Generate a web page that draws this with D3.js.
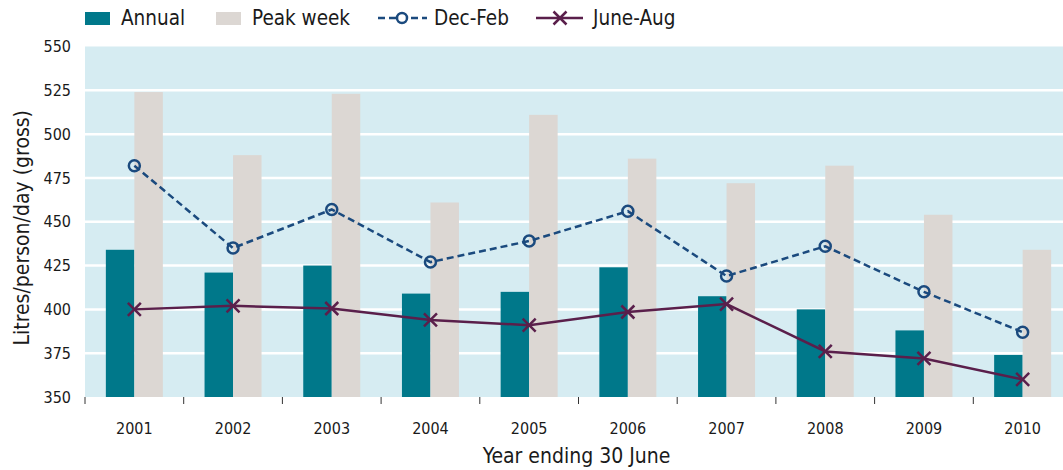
<!DOCTYPE html>
<html lang="en">
<head>
<meta charset="UTF-8">
<script src="https://d3js.org/d3.v7.min.js"></script>
<style>
  body { margin: 0; background: #fff; }
  svg { display: block; font-family: "DejaVu Sans Condensed", "Liberation Sans Narrow", sans-serif; }
</style>
</head>
<body>
<script>
// data
var years = ["2001", "2002", "2003", "2004", "2005", "2006", "2007", "2008", "2009", "2010"];
var annual = [434, 421, 425, 409, 410, 424, 407.5, 400, 388, 374];
var peakWeek = [524, 488, 523, 461, 511, 486, 472, 482, 454, 434];
var decFeb = [482, 435, 457, 427, 439, 456, 419, 436, 410, 387];
var juneAug = [400, 402, 400.5, 394, 391, 398.5, 403, 376, 372, 360];
var yTicks = [350, 375, 400, 425, 450, 475, 500, 525, 550];

var width = 1063, height = 470;
var mLeft = 85, mRight = 1072, mTop = 46.5, mBottom = 397;

var svg = d3.select("body").append("svg")
    .attr("width", width)
    .attr("height", height);

var x = d3.scaleBand().domain(years).range([mLeft, mRight]);
var y = d3.scaleLinear().domain([350, 550]).range([mBottom, mTop]);
var barW = 28.5;

// plot background
svg.append("rect")
    .attr("x", mLeft).attr("y", mTop)
    .attr("width", mRight - mLeft).attr("height", mBottom - mTop)
    .attr("fill", "#d6ecf2");

// gridlines
svg.append("g").selectAll("line")
    .data(yTicks.filter(d => d > 350 && d < 550))
    .enter().append("line")
    .attr("x1", mLeft).attr("x2", mRight)
    .attr("y1", d => y(d)).attr("y2", d => y(d))
    .attr("stroke", "#fff").attr("stroke-width", 2.5);

// y tick labels
svg.append("g").selectAll("text")
    .data(yTicks)
    .enter().append("text")
    .attr("x", 71).attr("y", d => y(d))
    .attr("dy", "0.35em")
    .attr("text-anchor", "end")
    .attr("font-size", 16)
    .attr("fill", "#1a1a1a")
    .text(d => d);

// bars
var cx = d => x(d) + x.bandwidth() / 2;
svg.append("g").selectAll("rect")
    .data(years)
    .enter().append("rect")
    .attr("x", (d) => cx(d) - barW)
    .attr("y", (d, i) => y(annual[i]))
    .attr("width", barW)
    .attr("height", (d, i) => mBottom - y(annual[i]))
    .attr("fill", "#00788a");

svg.append("g").selectAll("rect")
    .data(years)
    .enter().append("rect")
    .attr("x", (d) => cx(d))
    .attr("y", (d, i) => y(peakWeek[i]))
    .attr("width", barW)
    .attr("height", (d, i) => mBottom - y(peakWeek[i]))
    .attr("fill", "#dcd7d3");

// x axis ticks at band edges
var edges = years.map(d => x(d)).concat([mRight]);
svg.append("g").selectAll("line")
    .data(edges)
    .enter().append("line")
    .attr("x1", d => d).attr("x2", d => d)
    .attr("y1", mBottom).attr("y2", mBottom + 7)
    .attr("stroke", "#333").attr("stroke-width", 1);

svg.append("g").selectAll("text")
    .data(years)
    .enter().append("text")
    .attr("x", d => cx(d)).attr("y", 428)
    .attr("dy", "0.35em")
    .attr("text-anchor", "middle")
    .attr("font-size", 16)
    .attr("fill", "#1a1a1a")
    .text(d => d);

// lines
var decCol = "#1b4a7e", junCol = "#5a1f4b";
var line = d3.line().x((d, i) => cx(years[i])).y(d => y(d));

svg.append("path")
    .datum(decFeb)
    .attr("d", line)
    .attr("fill", "none")
    .attr("stroke", decCol)
    .attr("stroke-width", 2.5)
    .attr("stroke-dasharray", "7,4");

svg.append("g").selectAll("circle")
    .data(decFeb)
    .enter().append("circle")
    .attr("cx", (d, i) => cx(years[i]))
    .attr("cy", d => y(d))
    .attr("r", 5.5)
    .attr("fill", "none")
    .attr("stroke", decCol)
    .attr("stroke-width", 2.5);

svg.append("path")
    .datum(juneAug)
    .attr("d", line)
    .attr("fill", "none")
    .attr("stroke", junCol)
    .attr("stroke-width", 2.5);

function cross(g, px, py, s) {
    g.append("path")
        .attr("d", "M" + (px - s) + "," + (py - s) + "L" + (px + s) + "," + (py + s) +
                   "M" + (px - s) + "," + (py + s) + "L" + (px + s) + "," + (py - s))
        .attr("stroke", junCol)
        .attr("stroke-width", 2.5)
        .attr("fill", "none");
}
var crosses = svg.append("g");
juneAug.forEach((d, i) => cross(crosses, cx(years[i]), y(d), 6.5));

// axis titles
svg.append("text")
    .attr("transform", "translate(22," + ((mTop + mBottom) / 2 + 6) + ") rotate(-90)")
    .attr("dy", "0.35em")
    .attr("text-anchor", "middle")
    .attr("font-size", 21)
    .attr("fill", "#1a1a1a")
    .text("Litres/person/day (gross)");

svg.append("text")
    .attr("x", (mLeft + mRight) / 2 - 2).attr("y", 456)
    .attr("dy", "0.35em")
    .attr("text-anchor", "middle")
    .attr("font-size", 21)
    .attr("fill", "#1a1a1a")
    .text("Year ending 30 June");

// legend
var leg = svg.append("g").attr("font-size", 20.5).attr("fill", "#1a1a1a");
var ly = 18;
leg.append("rect").attr("x", 85).attr("y", 12).attr("width", 25).attr("height", 13).attr("fill", "#00788a");
leg.append("text").attr("x", 121).attr("y", ly).attr("dy", "0.35em").text("Annual");
leg.append("rect").attr("x", 216).attr("y", 12).attr("width", 25).attr("height", 13).attr("fill", "#dcd7d3");
leg.append("text").attr("x", 252).attr("y", ly).attr("dy", "0.35em").text("Peak week");

leg.append("line").attr("x1", 378).attr("x2", 427).attr("y1", ly).attr("y2", ly)
    .attr("stroke", decCol).attr("stroke-width", 2.5).attr("stroke-dasharray", "7,4");
leg.append("circle").attr("cx", 402).attr("cy", ly).attr("r", 5)
    .attr("fill", "#fff").attr("stroke", decCol).attr("stroke-width", 2.5);
leg.append("text").attr("x", 434).attr("y", ly).attr("dy", "0.35em").text("Dec-Feb");

leg.append("line").attr("x1", 536).attr("x2", 583).attr("y1", ly).attr("y2", ly)
    .attr("stroke", junCol).attr("stroke-width", 2.5);
cross(leg, 560, ly, 6.5);
leg.append("text").attr("x", 593).attr("y", ly).attr("dy", "0.35em").text("June-Aug");
</script>
</body>
</html>
